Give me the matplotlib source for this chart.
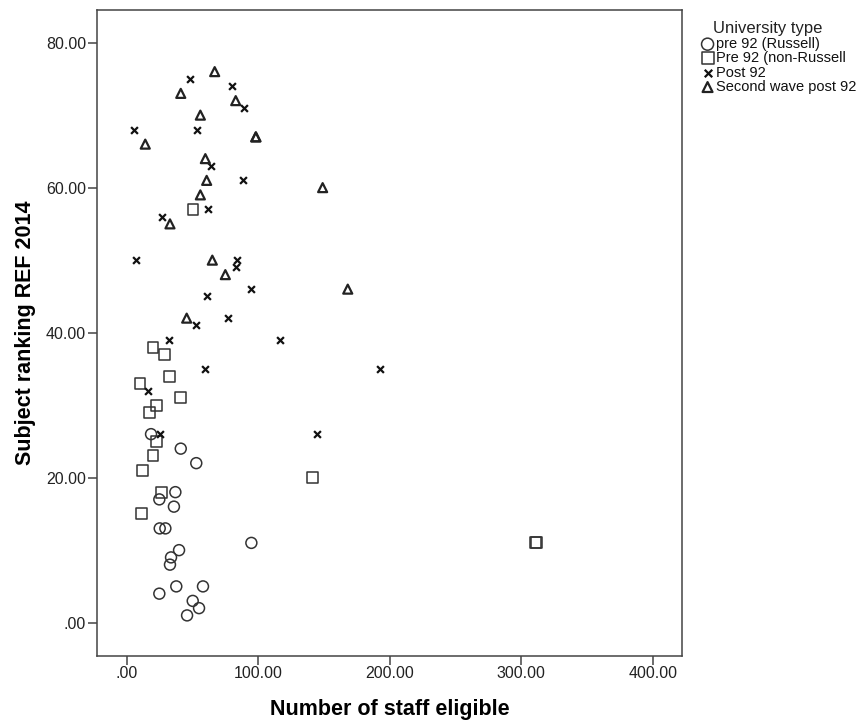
import numpy as np
import matplotlib.pyplot as plt

plt.rcParams['font.family'] = ['Liberation Sans', 'DejaVu Sans']

# staff eligible (x) and REF 2014 subject ranking (y) per university type
russell_staff = [18.5, 41.1, 52.9, 37.0, 24.8, 35.9, 25.1, 29.4, 94.8, 39.8,
                 33.7, 32.9, 37.7, 58.0, 24.8, 50.2, 55.0, 45.9]
russell_rank = [26, 24, 22, 18, 17, 16, 13, 13, 11, 10, 9, 8, 5, 5, 4, 3, 2, 1]

nonrussell_staff = [50.4, 20.0, 28.4, 32.2, 10.1, 41.1, 23.0, 17.0, 23.0, 20.0,
                    11.9, 26.8, 10.9, 141.0, 311.0, 311.5]
nonrussell_rank = [57, 38, 37, 34, 33, 31, 30, 29, 25, 23, 21, 18, 15, 20, 11, 11]

post92_staff = [47.9, 80.1, 89.0, 5.8, 53.7, 64.1, 88.7, 61.8, 26.8, 6.8,
                84.1, 82.9, 94.8, 60.8, 77.0, 52.9, 31.9, 116.8, 16.0, 59.8,
                192.9, 144.9, 25.3]
post92_rank = [75, 74, 71, 68, 68, 63, 61, 57, 56, 50, 50, 49, 46, 45, 42, 41,
               39, 39, 32, 35, 35, 26, 26]

wave2_staff = [66.9, 41.1, 82.9, 56.0, 98.1, 98.3, 14.1, 59.8, 60.8, 56.0,
               149.0, 32.9, 65.1, 75.0, 168.1, 45.6]
wave2_rank = [76, 73, 72, 70, 67, 67, 66, 64, 61, 59, 60, 55, 50, 48, 46, 42]

labels = ['pre 92 (Russell)', 'Pre 92 (non-Russell', 'Post 92', 'Second wave post 92']

fig = plt.figure(figsize=(8.63, 7.25), dpi=100)
ax = fig.add_axes([97 / 863, 1 - 656 / 725, (682 - 97) / 863, (656 - 10) / 725])

edge = '#333333'
ax.scatter(russell_staff, russell_rank, s=62, marker='o', facecolors='none',
           edgecolors=edge, linewidths=1.1, label=labels[0])
ax.scatter(nonrussell_staff, nonrussell_rank, s=62, marker='s', facecolors='none',
           edgecolors=edge, linewidths=1.1, label=labels[1])
ax.scatter(post92_staff, post92_rank, s=24, marker='x', color='#111111',
           linewidths=1.6, label=labels[2])
ax.scatter(wave2_staff, wave2_rank, s=42, marker='^', facecolors='none',
           edgecolors='#222222', linewidths=1.6, label=labels[3])

ax.set_xlim(-22.6, 422.3)
ax.set_ylim(-4.6, 84.5)
ax.set_xticks([0, 100, 200, 300, 400])
ax.set_xticklabels(['.00', '100.00', '200.00', '300.00', '400.00'])
ax.set_yticks([0, 20, 40, 60, 80])
ax.set_yticklabels(['.00', '20.00', '40.00', '60.00', '80.00'])
ax.tick_params(direction='out', length=6.5, width=1.1, color='#444444',
               labelsize=11.5, labelcolor='#222222')
ax.tick_params(axis='x', pad=1)
ax.tick_params(axis='y', pad=1.5)
for sp in ax.spines.values():
    sp.set_color('#444444')
    sp.set_linewidth(1.1)

ax.set_xlabel('Number of staff eligible', fontsize=15.5, fontweight='bold',
              labelpad=13)
ax.set_ylabel('Subject ranking REF 2014', fontsize=15.5, fontweight='bold',
              labelpad=7)

# legend: title placed separately, entries stacked tightly underneath
fig.text(768 / 863, 1 - 28 / 725, 'University type', fontsize=12,
         ha='center', va='center', color='#222222')
leg = ax.legend(loc='upper left', bbox_to_anchor=(701 / 863, 1 - 37 / 725),
                bbox_transform=fig.transFigure, frameon=False, fontsize=10.5,
                handletextpad=0.15, labelspacing=0.02, borderaxespad=0,
                handlelength=0.9, borderpad=0, markerscale=1.1)
for t in leg.get_texts():
    t.set_color('#111111')

fig.savefig('out.png', dpi=100)
